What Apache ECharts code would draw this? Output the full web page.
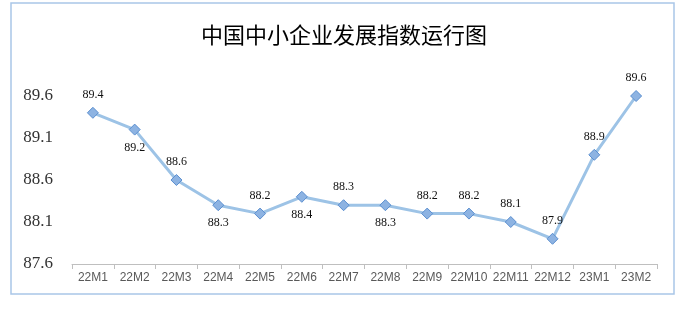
<!DOCTYPE html>
<html><head><meta charset="utf-8">
<script src="https://cdn.jsdelivr.net/npm/echarts@6/dist/echarts.min.js"></script>
<style>html,body{margin:0;padding:0;background:#fff}#c{width:688px;height:309px}</style>
</head><body><div id="c"></div>
<script>
const categories = ['22M1','22M2','22M3','22M4','22M5','22M6','22M7','22M8','22M9','22M10','22M11','22M12','23M1','23M2'];
const values = [89.4,89.2,88.6,88.3,88.2,88.4,88.3,88.3,88.2,88.2,88.1,87.9,88.9,89.6];
const labelPos = ['top','bottom','top','bottom','top','bottom','top','bottom','top','top','top','top','top','top'];
const titleText = '中国中小企业发展指数运行图';

const chart = echarts.init(document.getElementById('c'));
chart.setOption({
  animation:false,
  backgroundColor:'#fff',
  graphic:[{type:'rect',shape:{x:11,y:3,width:663,height:291},style:{fill:'none',stroke:'#A9C6E8',lineWidth:1.5}}],
  title:{text:titleText,left:'center',top:19,textStyle:{fontFamily:'Noto Sans CJK SC',fontSize:22,fontWeight:'normal',color:'#000'}},
  grid:{left:72,right:31,top:96,bottom:45},
  xAxis:{type:'category',data:categories,boundaryGap:true,
    axisLine:{lineStyle:{color:'#bfbfbf'}},
    axisTick:{show:true,length:5,lineStyle:{color:'#bfbfbf'}},
    axisLabel:{color:'#595959',fontSize:12,fontFamily:'Liberation Sans',margin:8,interval:0}},
  yAxis:{type:'value',min:87.6,max:89.6,interval:0.5,
    axisLine:{show:false},axisTick:{show:false},splitLine:{show:false},
    axisLabel:{color:'#333',fontSize:17,fontFamily:'Liberation Serif',margin:19,formatter:v=>v.toFixed(1)}},
  series:[{type:'line',
    data:values.map((v,i)=>({value:v,label:{position:labelPos[i]}})),
    symbol:'diamond',symbolSize:11,
    lineStyle:{color:'#9DC3E6',width:3},
    itemStyle:{color:'#8DB3E2',borderColor:'#5B8FD0',borderWidth:1},
    label:{show:true,fontFamily:'Liberation Serif',fontSize:12,color:'#111',distance:6,formatter:p=>p.value.toFixed(1)}
  }]
});
</script></body></html>
